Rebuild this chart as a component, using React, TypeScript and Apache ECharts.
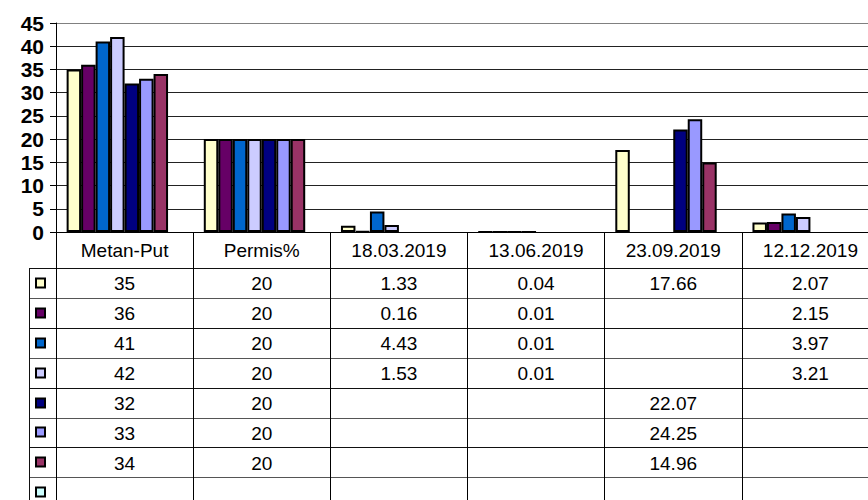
import React, { useEffect, useRef } from "react";
import * as echarts from "echarts";

const categories = ["Metan-Put", "Permis%", "18.03.2019", "13.06.2019", "23.09.2019", "12.12.2019"];
const series1 = [35, 20, 1.33, 0.04, 17.66, 2.07];
const series2 = [36, 20, 0.16, 0.01, null, 2.15];
const series3 = [41, 20, 4.43, 0.01, null, 3.97];
const series4 = [42, 20, 1.53, 0.01, null, 3.21];
const series5 = [32, 20, null, null, 22.07, null];
const series6 = [33, 20, null, null, 24.25, null];
const series7 = [34, 20, null, null, 14.96, null];
const series8 = [null, null, null, null, null, null];
const seriesData = [series1, series2, series3, series4, series5, series6, series7, series8];
const seriesColors = ["#FFFFCC", "#660066", "#0066CC", "#CCCCFF", "#000080", "#9999FF", "#993366", "#CCFFFF"];
const yMin = 0;
const yMax = 45;
const yInterval = 5;

const W = 884;
const H = 500;
const FONT = '"Liberation Sans", Arial, sans-serif';

export default function App() {
  const ref = useRef<HTMLDivElement>(null);
  useEffect(() => {
    if (!ref.current) return;
    const chart = echarts.init(ref.current, undefined, { renderer: "svg" });
    const gridLeft = 56;
    const gridTop = 23;
    const axisY = 232;
    const plotRight = 879;
    const headerH = 36;
    const rowH = 29.9;
    const legendLeft = 29.5;

    chart.setOption({
      animation: false,
      backgroundColor: "#fff",
      grid: {
        left: gridLeft,
        top: gridTop,
        right: W - plotRight,
        bottom: H - axisY,
        containLabel: false,
        outerBoundsMode: "none",
      },
      xAxis: {
        type: "category",
        data: categories,
        boundaryGap: true,
        axisLine: { show: true, lineStyle: { color: "#000", width: 1 } },
        axisTick: { show: true, interval: 0, length: 272, lineStyle: { color: "#000", width: 1 } },
        axisLabel: {
          interval: 0,
          margin: 18,
          verticalAlign: "middle",
          color: "#000",
          fontSize: 19,
          fontFamily: FONT,
        },
        splitLine: { show: false },
      },
      yAxis: {
        type: "value",
        min: yMin,
        max: yMax,
        interval: yInterval,
        axisLine: { show: true, lineStyle: { color: "#000", width: 1 } },
        axisTick: { show: true, length: 6, lineStyle: { color: "#000" } },
        axisLabel: {
          margin: 12,
          color: "#000",
          fontSize: 21,
          fontWeight: "bold",
          fontFamily: FONT,
        },
        splitLine: {
          show: true,
          lineStyle: {
            color: ["#222", "#222", "#222", "#222", "#222", "#222", "#222", "#222", "#222", "#808080"],
            width: 1,
          },
        },
      },
      series: seriesData.map((d, i) => ({
        name: "Series" + (i + 1),
        type: "bar",
        data: d,
        barGap: "0%",
        barCategoryGap: "15.5%",
        itemStyle: { color: seriesColors[i], borderColor: "#000", borderWidth: 2 },
      })),
    });

    const xs = categories.map((_, i) => chart.convertToPixel({ xAxisIndex: 0 }, i) as number);
    const tableTop = axisY + headerH;
    const graphics: any[] = [];
    for (let r = 0; r <= seriesData.length; r++) {
      const y = Math.round(tableTop + r * rowH) + 0.5;
      graphics.push({
        type: "line",
        shape: { x1: legendLeft, y1: y, x2: W, y2: y },
        style: { stroke: r % 2 === 1 ? "#555" : "#111", lineWidth: 1 },
        silent: true,
      });
    }
    graphics.push({
      type: "line",
      shape: { x1: legendLeft, y1: tableTop, x2: legendLeft, y2: H + 5 },
      style: { stroke: "#111", lineWidth: 1 },
      silent: true,
    });
    seriesData.forEach((d, r) => {
      const cy = tableTop + (r + 0.5) * rowH;
      graphics.push({
        type: "rect",
        shape: { x: 36, y: Math.round(cy) - 4.5, width: 9, height: 9 },
        style: { fill: seriesColors[r], stroke: "#000", lineWidth: 2 },
        silent: true,
      });
      d.forEach((v, c) => {
        if (v === null || v === undefined) return;
        graphics.push({
          type: "text",
          x: xs[c],
          y: cy + 1,
          style: {
            text: String(v),
            fill: "#000",
            fontSize: 19,
            fontFamily: FONT,
            align: "center",
            verticalAlign: "middle",
          },
          silent: true,
        });
      });
    });
    chart.setOption({ graphic: graphics });

    return () => chart.dispose();
  }, []);

  return (
    <div
      style={{
        position: "fixed",
        left: 0,
        top: 0,
        width: 868,
        height: 500,
        overflow: "hidden",
        background: "#fff",
      }}
    >
      <div ref={ref} style={{ width: W, height: H }} />
    </div>
  );
}
